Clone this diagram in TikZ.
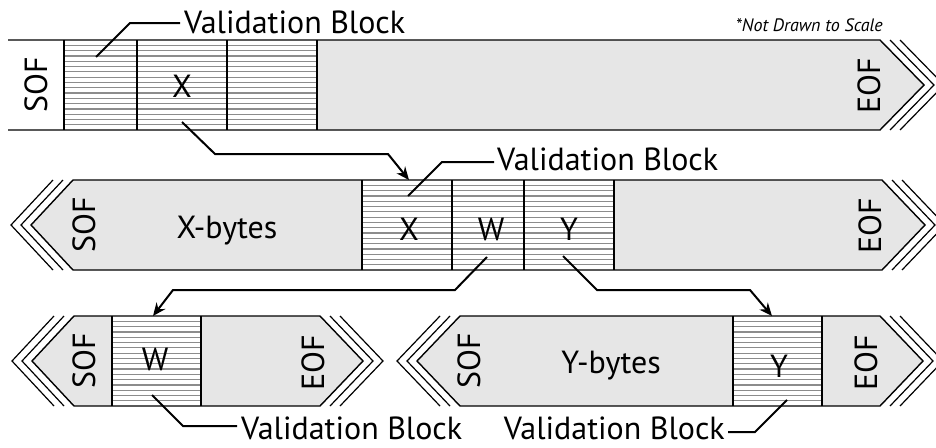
\documentclass[tikz,border=0pt]{standalone}
\usepackage{fontspec}
\setmainfont{PT Sans}
\usetikzlibrary{arrows.meta}
\definecolor{fillgray}{HTML}{E6E6E6}
\definecolor{hatchgray}{HTML}{8C8C8C}
\tikzset{
  outline/.style={draw=black, line width=1.4pt, line join=miter},
  grayfill/.style={fill=fillgray},
  chev/.style={draw=black, line width=1.2pt},
  hatchline/.style={draw=hatchgray, line width=1.2pt},
  divider/.style={draw=black, line width=1.4pt},
  lbl/.style={font=\fontsize{32}{36}\selectfont, inner sep=0pt},
  vlbl/.style={lbl, rotate=90},
  note/.style={font=\fontsize{18}{20}\selectfont\itshape, inner sep=0pt},
  conn/.style={draw=black, line width=2pt, line join=miter},
  arr/.style={conn, -{Stealth[length=13pt,width=11pt]}},
}
\newcommand{\hatchrect}[3]{% x1, x2, top
  \fill[white] (#1,#3) rectangle (#2,#3+90);
  \foreach \k in {1,...,16}{\draw[hatchline] (#1,#3+\k*5.3) -- (#2,#3+\k*5.3);}
}
\begin{document}
\begin{tikzpicture}[x=1pt,y=-1pt]
\useasboundingbox (0,0) rectangle (936,447);

% ---------- Row 1 ----------
\fill[grayfill] (317,40) -- (880,40) -- (924,85) -- (880,130) -- (317,130) -- cycle;
\hatchrect{64}{317}{40}
\draw[outline] (8,40) -- (880,40) -- (924,85) -- (880,130) -- (8,130);
\foreach \xx in {64,137,227,317} \draw[divider] (\xx,40) -- (\xx,130);
\draw[chev] (890,40) -- (934,85) -- (890,130);
\draw[chev] (900,40) -- (944,85) -- (900,130);
\node[vlbl] (sof1) at (36,85) {SOF};
\node[lbl, anchor=base] (x1) at (182,97) {X};
\node[vlbl] (eof1) at (869,86) {EOF};
\node[lbl, anchor=base west] (vb1) at (184,33) {Validation Block};
\node[note, anchor=base east] (nds) at (883,31) {*Not Drawn to Scale};

% ---------- Row 2 ----------
\fill[grayfill] (73,180) -- (882,180) -- (925,225) -- (882,270) -- (73,270) -- (31,225) -- cycle;
\hatchrect{362}{614}{180}
\draw[outline] (73,180) -- (882,180) -- (925,225) -- (882,270) -- (73,270) -- (31,225) -- cycle;
\foreach \xx in {362,452,524,614} \draw[divider] (\xx,180) -- (\xx,270);
\draw[chev] (63,180) -- (21,225) -- (63,270);
\draw[chev] (53,180) -- (11,225) -- (53,270);
\draw[chev] (892,180) -- (935,225) -- (892,270);
\draw[chev] (902,180) -- (945,225) -- (902,270);
\node[vlbl] (sof2) at (84,225) {SOF};
\node[lbl, anchor=base] (xbytes) at (227,238) {X-bytes};
\node[lbl, anchor=base] (x2) at (409,240) {X};
\node[lbl, anchor=base] (w2) at (491,240) {W};
\node[lbl, anchor=base] (y2) at (569,240) {Y};
\node[vlbl] (eof2) at (870,226) {EOF};
\node[lbl, anchor=base west] (vb2) at (497,170) {Validation Block};

% ---------- Row 3 left ----------
\fill[grayfill] (74,316) -- (320,316) -- (363,361) -- (320,406) -- (74,406) -- (32,361) -- cycle;
\hatchrect{112}{201}{316}
\draw[outline] (74,316) -- (320,316) -- (363,361) -- (320,406) -- (74,406) -- (32,361) -- cycle;
\foreach \xx in {112,201} \draw[divider] (\xx,316) -- (\xx,406);
\draw[chev] (64,316) -- (22,361) -- (64,406);
\draw[chev] (54,316) -- (12,361) -- (54,406);
\draw[chev] (330,316) -- (373,361) -- (330,406);
\draw[chev] (340,316) -- (383,361) -- (340,406);
\node[vlbl] (sof3) at (84,361) {SOF};
\node[lbl, anchor=base] (w3) at (155,370) {W};
\node[vlbl] (eof3) at (313,363) {EOF};
\node[lbl, anchor=base west] (vb3) at (241,439) {Validation Block};

% ---------- Row 3 right ----------
\fill[grayfill] (460,316) -- (880,316) -- (923,361) -- (880,406) -- (460,406) -- (417,361) -- cycle;
\hatchrect{733}{822}{316}
\draw[outline] (460,316) -- (880,316) -- (923,361) -- (880,406) -- (460,406) -- (417,361) -- cycle;
\foreach \xx in {733,822} \draw[divider] (\xx,316) -- (\xx,406);
\draw[chev] (450,316) -- (407,361) -- (450,406);
\draw[chev] (440,316) -- (397,361) -- (440,406);
\draw[chev] (890,316) -- (933,361) -- (890,406);
\draw[chev] (900,316) -- (943,361) -- (900,406);
\node[vlbl] (sof4) at (469,361) {SOF};
\node[lbl, anchor=base] (ybytes) at (611,373) {Y-bytes};
\node[lbl, anchor=base] (y4) at (779,377) {Y};
\node[vlbl] (eof4) at (866,363) {EOF};
\node[lbl, anchor=base east] (vb4) at (725,439) {Validation Block};

% ---------- leader lines ----------
\coordinate (l1a) at (96,57);   \coordinate (l1b) at (130,23);  \coordinate (l1c) at (180,23);
\draw[conn] (l1a) -- (l1b) -- (l1c);
\coordinate (l2a) at (408,196); \coordinate (l2b) at (442,162); \coordinate (l2c) at (494,162);
\draw[conn] (l2a) -- (l2b) -- (l2c);
\coordinate (l3a) at (152,395); \coordinate (l3b) at (183,426); \coordinate (l3c) at (237,426);
\draw[conn] (l3a) -- (l3b) -- (l3c);
\coordinate (l4a) at (787,400); \coordinate (l4b) at (755,432); \coordinate (l4c) at (728,432);
\draw[conn] (l4a) -- (l4b) -- (l4c);

% ---------- arrows ----------
\coordinate (a1s) at (182,122); \coordinate (a1b) at (215,154); \coordinate (a1c) at (388,154); \coordinate (a1e) at (409,180);
\draw[arr] (a1s) -- (a1b) -- (a1c) -- (a1e);
\coordinate (a2s) at (487,257); \coordinate (a2b) at (455,290); \coordinate (a2c) at (173,290); \coordinate (a2e) at (153,316);
\draw[arr] (a2s) -- (a2b) -- (a2c) -- (a2e);
\coordinate (a3s) at (563,256); \coordinate (a3b) at (597,290); \coordinate (a3c) at (750,290); \coordinate (a3e) at (772,316);
\draw[arr] (a3s) -- (a3b) -- (a3c) -- (a3e);
\end{tikzpicture}
\end{document}
